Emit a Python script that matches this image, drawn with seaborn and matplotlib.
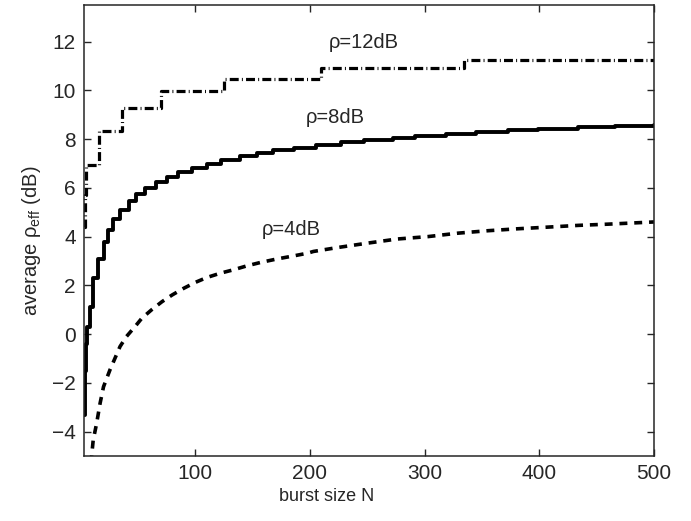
import numpy as np
import pandas as pd
import matplotlib
matplotlib.use("Agg")
import matplotlib.pyplot as plt
import seaborn as sns

# burst size N / average effective SNR (dB)
n_12db = [3, 4, 5, 16, 36, 70, 125, 210, 334, 500]
rho_12db = [4.4, 5.7, 6.95, 8.35, 9.28, 9.98, 10.48, 10.9, 11.23, 11.23]

n_8db = [3, 4, 5, 6, 8, 11, 15, 20, 24, 28, 34, 42, 48, 56, 66, 75, 85, 97,
         110, 122, 139, 154, 168, 186, 205, 227, 247, 272, 292, 319, 345,
         373, 399, 434, 466, 500]
rho_8db = [-3.3, -1.5, -0.4, 0.3, 1.1, 2.3, 3.1, 3.76, 4.28, 4.73, 5.1, 5.44,
           5.74, 5.99, 6.22, 6.44, 6.63, 6.81, 6.98, 7.13, 7.29, 7.43, 7.54,
           7.63, 7.77, 7.86, 7.95, 8.04, 8.14, 8.22, 8.29, 8.36, 8.41, 8.48,
           8.52, 8.56]

n_4db = [9, 11, 14, 17, 20, 25.6, 30, 34.4, 40, 47.5, 53.4, 62, 71, 80, 90,
         100, 110, 122, 133.5, 145, 157, 171, 186, 198, 203, 224, 250, 276,
         303, 329, 355, 381, 408, 434, 460, 500]
rho_4db = [-5.3, -4.35, -3.66, -2.84, -2.16, -1.47, -0.99, -0.51, -0.1, 0.31,
           0.65, 1.0, 1.33, 1.61, 1.88, 2.12, 2.32, 2.5, 2.64, 2.8, 2.94, 3.08,
           3.21, 3.32, 3.39, 3.55, 3.73, 3.9, 4.0, 4.14, 4.24, 4.32, 4.39,
           4.46, 4.51, 4.6]

labels = ["ρ=12dB", "ρ=8dB", "ρ=4dB"]
label_pos = [(247, 11.95), (222, 8.9), (184, 4.3)]

sns.set_style("ticks")
plt.rcParams["font.family"] = ["Liberation Sans", "DejaVu Sans"]
plt.rcParams["mathtext.fontset"] = "custom"
plt.rcParams["mathtext.rm"] = "Liberation Sans"
plt.rcParams["mathtext.it"] = "Liberation Sans:italic"

fig = plt.figure(figsize=(6.91, 5.21), dpi=100)
ax = fig.add_axes([0.1216, 0.1248, 0.8249, 0.8656])

sns.lineplot(x=n_12db, y=rho_12db, ax=ax, color="black", lw=2.3,
             drawstyle="steps-post", estimator=None)
ax.lines[-1].set_dashes((2.8, 1.0, 0.3, 1.0))

sns.lineplot(x=n_8db, y=rho_8db, ax=ax, color="black", lw=2.8,
             drawstyle="steps-post", estimator=None)

sns.lineplot(x=n_4db, y=rho_4db, ax=ax, color="black", lw=2.6,
             estimator=None)
ax.lines[-1].set_dashes((2.2, 1.9))

for txt, (x, y) in zip(labels, label_pos):
    ax.text(x, y, txt, ha="center", va="center", fontsize=14.5)

ax.set_xlim(3, 500)
ax.set_ylim(-5, 13.5)
ax.set_xticks([100, 200, 300, 400, 500])
ax.set_yticks([-4, -2, 0, 2, 4, 6, 8, 10, 12])
ax.tick_params(direction="in", top=True, right=True, length=5, width=1,
               labelsize=15, pad=6)
for s in ax.spines.values():
    s.set_linewidth(1.1)
    s.set_visible(True)

ax.set_xlabel("burst size N", fontsize=13)
ax.xaxis.set_label_coords(0.426, -0.072)
ax.set_ylabel("average ρ$_{\\mathrm{eff}}$ (dB)", fontsize=14.5)
ax.yaxis.set_label_coords(-0.072, 0.477)

fig.savefig("out.png", dpi=100)
